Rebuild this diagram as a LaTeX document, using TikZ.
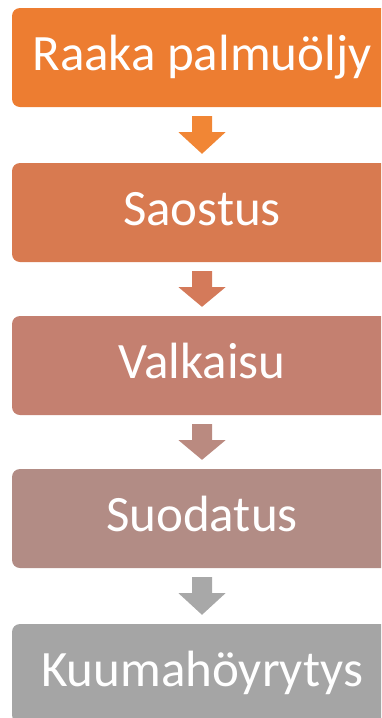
\documentclass[tikz,border=0pt]{standalone}
\usepackage{fontspec}
\setmainfont{Carlito}
\usetikzlibrary{calc}
\definecolor{cA}{RGB}{237,125,49}
\definecolor{cB}{RGB}{216,122,80}
\definecolor{cC}{RGB}{196,128,112}
\definecolor{cD}{RGB}{178,140,133}
\definecolor{cE}{RGB}{165,165,165}
\definecolor{aA}{RGB}{241,134,53}
\definecolor{aB}{RGB}{212,122,90}
\definecolor{aC}{RGB}{186,138,128}
\definecolor{aD}{RGB}{168,168,168}
\newcommand{\blockarr}[3]{%
  \fill[#3] ($(#1.south)+(-10,-9)$) -- ($(#1.south)+(10,-9)$)
    -- ($(#1.south)+(10,-25)$) -- ($(#1.south)+(23.5,-25)$)
    -- ($(#2.north)+(0,9)$)
    -- ($(#1.south)+(-23.5,-25)$) -- ($(#1.south)+(-10,-25)$) -- cycle;}
\tikzset{
  procbox/.style={rectangle, rounded corners=8pt, minimum width=380pt, minimum height=99pt,
    inner sep=0pt, text=white, text height=36pt, text depth=11pt,
    font=\fontsize{51}{61}\selectfont}
}
\begin{document}
\begin{tikzpicture}[x=1pt,y=1pt]
\useasboundingbox (0,0) rectangle (381,-718);
\clip (0,0) rectangle (381,-718);
\node[procbox, fill=cA] (b1) at (202,-57.5) {Raaka palmuöljy};
\node[procbox, fill=cB] (b2) at (202,-212.5) {Saostus};
\node[procbox, fill=cC] (b3) at (202,-365.5) {Valkaisu};
\node[procbox, fill=cD] (b4) at (202,-518.5) {Suodatus};
\node[procbox, fill=cE] (b5) at (202,-673.5) {Kuumahöyrytys};
\blockarr{b1}{b2}{aA}
\blockarr{b2}{b3}{aB}
\blockarr{b3}{b4}{aC}
\blockarr{b4}{b5}{aD}
\end{tikzpicture}
\end{document}
